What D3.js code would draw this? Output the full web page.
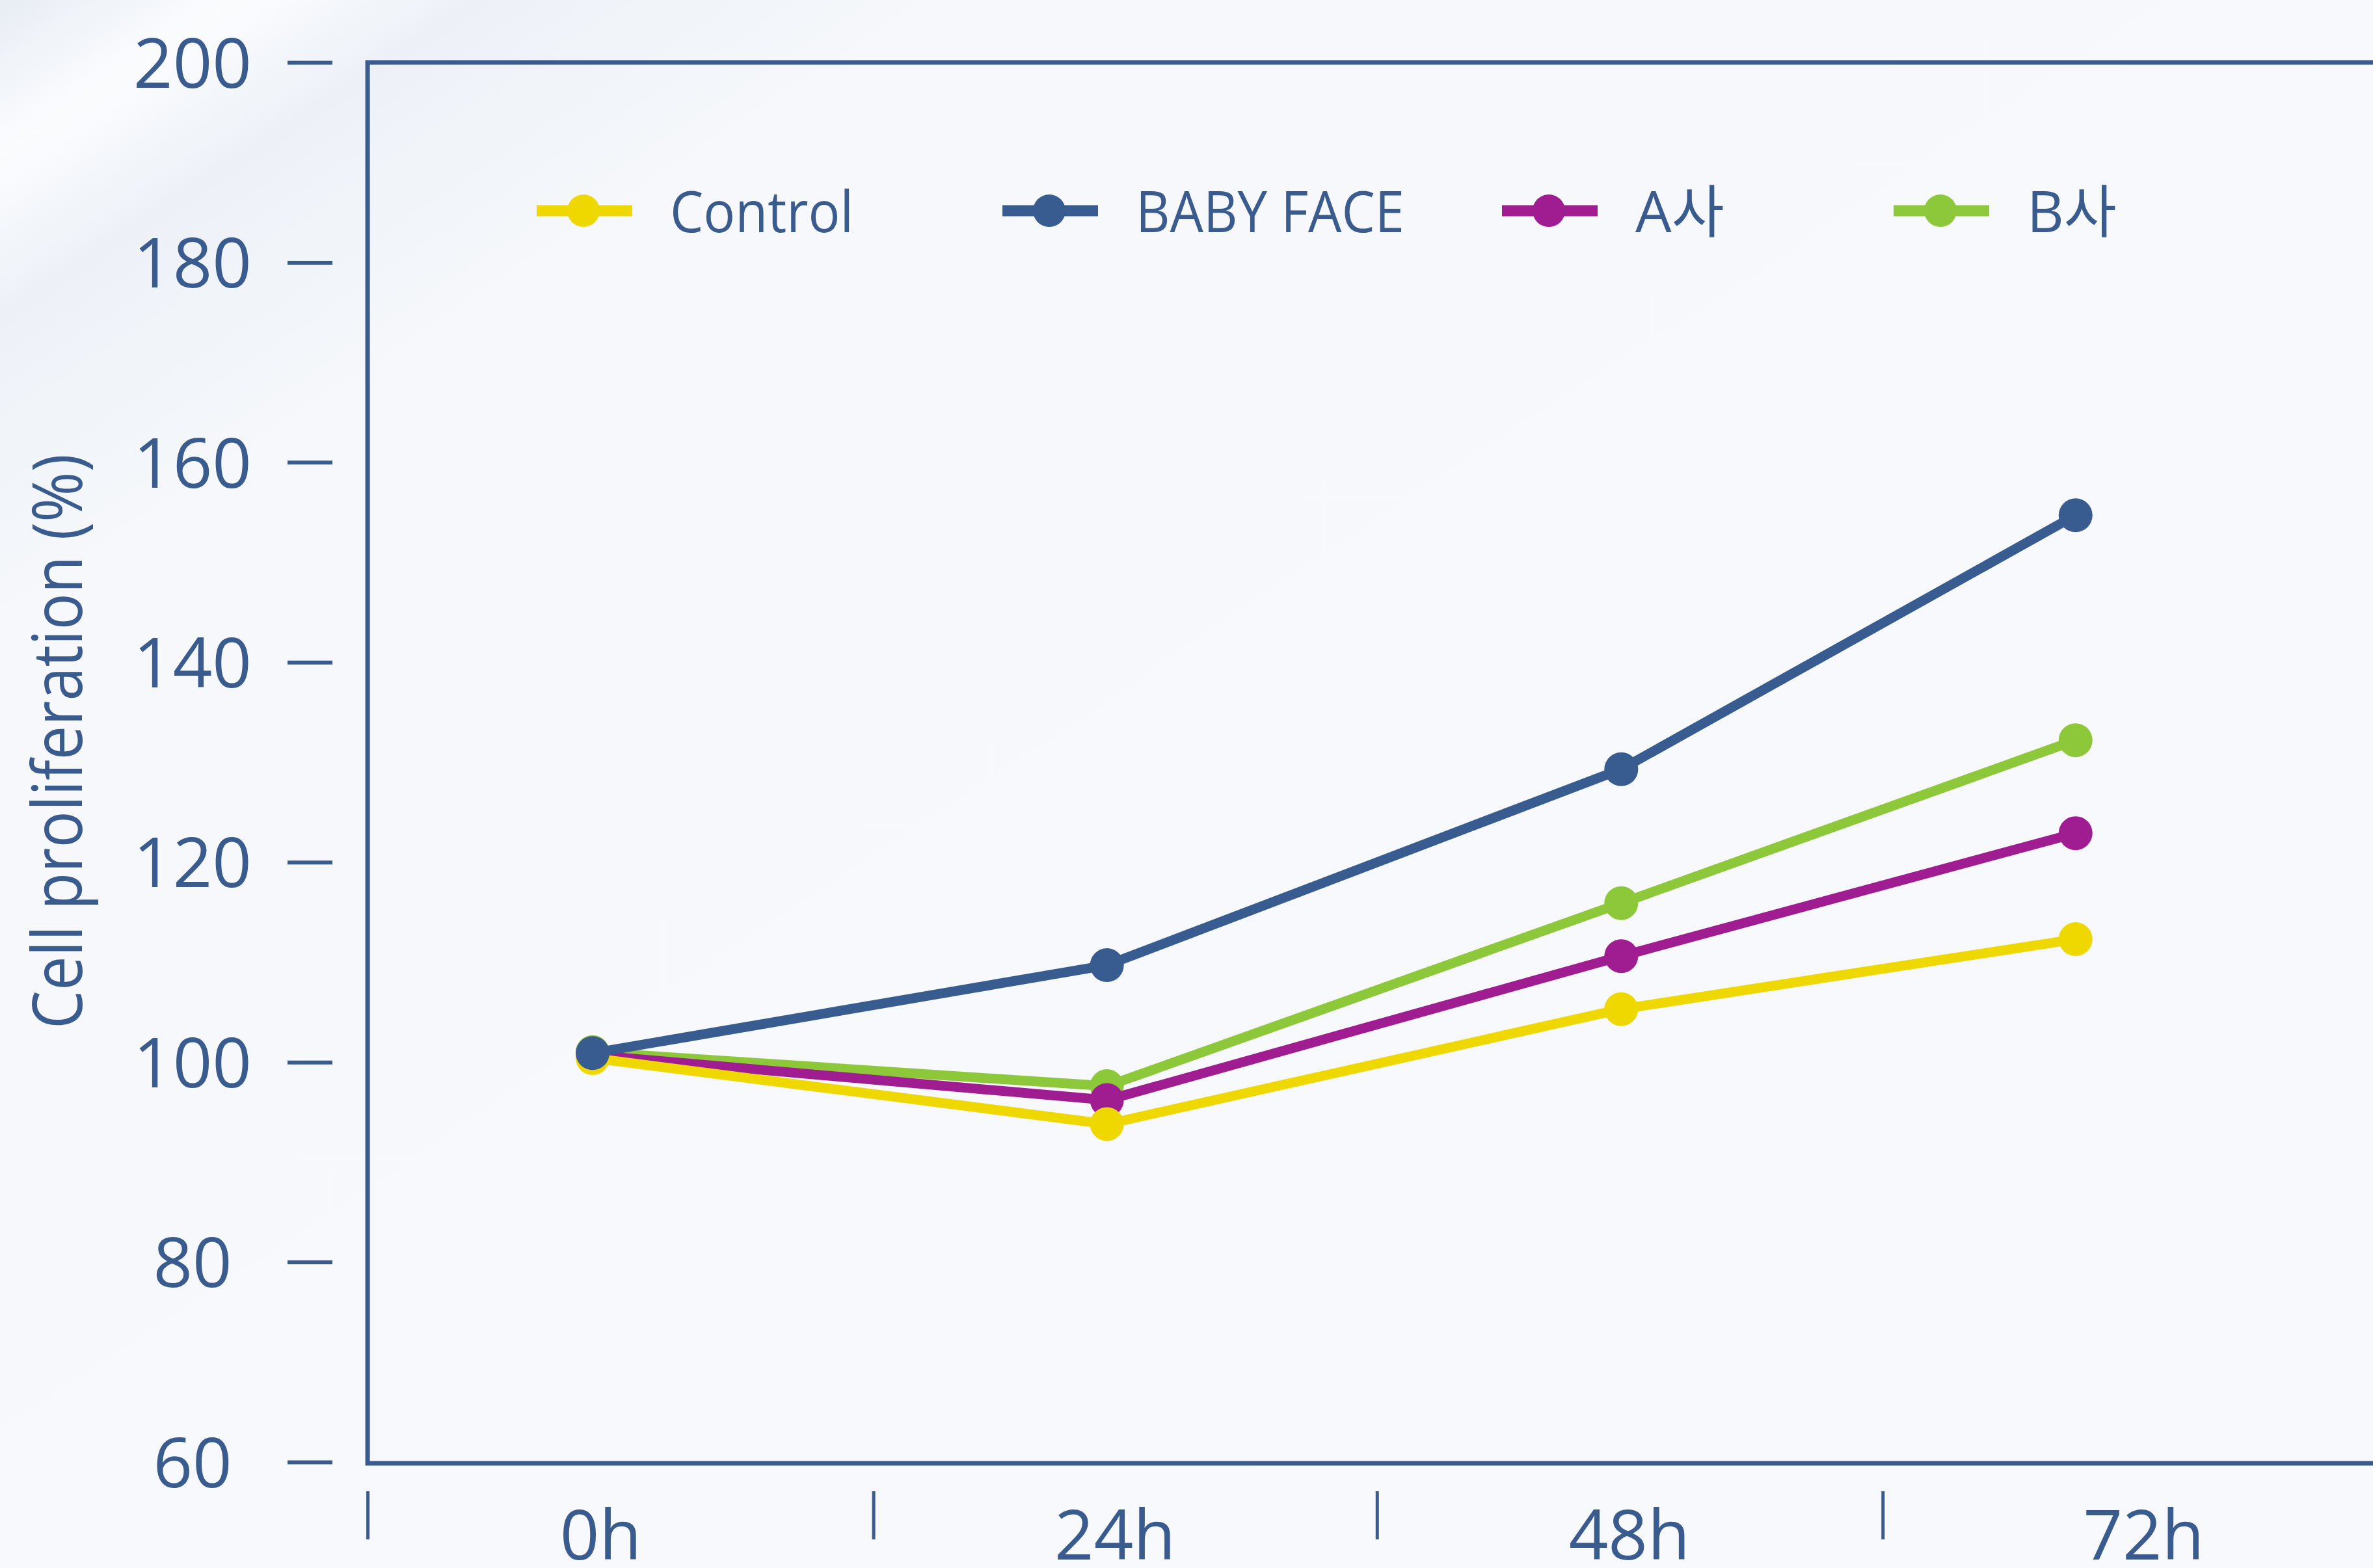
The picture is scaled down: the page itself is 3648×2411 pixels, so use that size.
<!DOCTYPE html>
<html lang='en'>
	<head>
		<meta charset='utf-8'>
		<title>Cell proliferation</title>
		<script type='text/javascript' src='https://d3js.org/d3.v7.min.js'></script>
		<style type='text/css'>
			body {
				margin: 0;
				background: #f6f8fb;
			}
			text {
				font-family: 'Open Sans', 'Noto Sans CJK KR', sans-serif;
				fill: #3a5b8e;
			}
		</style>
	</head>
	<body>
		<script type='text/javascript'>
			// x categories (hours) and where the points sit on the time axis
			var categories = ['0h', '24h', '48h', '72h'];
			var labelHours = [0, 24, 48, 72];
			var pointHours = [0, 24, 48, 69.2];
			// separators drawn under the axis, in hours
			var separatorHours = [-10.5, 13.1, 36.6, 60.2];

			var yTicks = [60, 80, 100, 120, 140, 160, 180, 200];

			var seriesNames = ['Control', 'BABY FACE', 'A사', 'B사'];
			var controlValues = [100.4, 93.8, 105.3, 112.3];
			var babyFaceValues = [100.9, 109.7, 129.3, 154.7];
			var aValues = [100.7, 96.2, 110.6, 122.9];
			var bValues = [101.0, 97.6, 115.9, 132.2];

			var w = 3648;
			var h = 2411;
			var ink = '#3a5b8e';

			var colors = {
				'Control': '#eed800',
				'BABY FACE': '#385c8f',
				'A사': '#a01c91',
				'B사': '#8cc83a'
			};
			var valuesByName = {
				'Control': controlValues,
				'BABY FACE': babyFaceValues,
				'A사': aValues,
				'B사': bValues
			};
			// drawing order (blue on top)
			var drawOrder = ['B사', 'A사', 'Control', 'BABY FACE'];

			var svg = d3.select('body')
				.append('svg')
				.attr('width', w)
				.attr('height', h);

			// soft background
			var grad = svg.append('defs').append('linearGradient')
				.attr('id', 'bg')
				.attr('x1', 0).attr('y1', 0)
				.attr('x2', 1).attr('y2', 1);
			[['0%', '#e8edf4'], ['5%', '#fbfcfe'], ['10%', '#edf1f7'], ['20%', '#f6f8fb'], ['100%', '#f7f9fc']]
				.forEach(function(s) {
					grad.append('stop').attr('offset', s[0]).attr('stop-color', s[1]);
				});
			svg.append('rect')
				.attr('width', w)
				.attr('height', h)
				.attr('fill', 'url(#bg)');

			var xScale = d3.scaleLinear()
				.domain([0, 72])
				.range([911, 3283]);

			var yScale = d3.scaleLinear()
				.domain([60, 200])
				.range([2248, 96]);

			// frame (open on the right)
			svg.append('path')
				.attr('d', 'M' + (w + 20) + ',' + yScale(200)
					+ 'H' + xScale(separatorHours[0])
					+ 'V' + (yScale(60) + 2)
					+ 'H' + (w + 20))
				.attr('fill', 'none')
				.attr('stroke', ink)
				.attr('stroke-width', 7);

			// y axis: detached tick marks + centred labels
			var yAxis = d3.axisLeft(yScale)
				.tickValues(yTicks)
				.tickSize(69);
			var gy = svg.append('g')
				.attr('transform', 'translate(511,0)')
				.call(yAxis);
			gy.select('.domain').remove();
			gy.selectAll('line').attr('stroke', ink).attr('stroke-width', 6);
			gy.selectAll('text')
				.attr('x', -215)
				.attr('dy', '0.36em')
				.attr('text-anchor', 'middle')
				.attr('font-size', 106)
				.attr('fill', ink);

			// x axis separators
			var sepAxis = d3.axisBottom(xScale)
				.tickValues(separatorHours)
				.tickSize(74)
				.tickFormat('');
			var gs = svg.append('g')
				.attr('transform', 'translate(0,2293)')
				.call(sepAxis);
			gs.select('.domain').remove();
			gs.selectAll('line').attr('stroke', ink).attr('stroke-width', 5);

			// x labels
			var labelAxis = d3.axisBottom(xScale)
				.tickValues(labelHours)
				.tickSize(0)
				.tickFormat(function(d, i) { return categories[i]; });
			var gx = svg.append('g')
				.attr('transform', 'translate(12,2398)')
				.call(labelAxis);
			gx.select('.domain').remove();
			gx.selectAll('text')
				.attr('y', 0)
				.attr('dy', 0)
				.attr('font-size', 106)
				.attr('fill', ink);

			// y title
			svg.append('text')
				.attr('transform', 'translate(126,1140) rotate(-90)')
				.attr('text-anchor', 'middle')
				.attr('font-size', 106)
				.attr('textLength', 884)
				.attr('lengthAdjust', 'spacingAndGlyphs')
				.text('Cell proliferation (%)');

			// series
			var line = d3.line()
				.x(function(d, i) { return xScale(pointHours[i]); })
				.y(function(d) { return yScale(d); });

			drawOrder.forEach(function(name) {
				var vals = valuesByName[name];
				var g = svg.append('g');
				g.append('path')
					.datum(vals)
					.attr('d', line)
					.attr('fill', 'none')
					.attr('stroke', colors[name])
					.attr('stroke-width', 15)
					.attr('stroke-linejoin', 'round');
				g.selectAll('circle')
					.data(vals)
					.enter()
					.append('circle')
					.attr('cx', function(d, i) { return xScale(pointHours[i]); })
					.attr('cy', function(d) { return yScale(d); })
					.attr('r', 26)
					.attr('fill', colors[name]);
			});

			// legend
			var legendX = [825, 1541, 2309, 2911];
			var legendLen = [282, 413, null, null];
			var legendY = 324;
			var lg = svg.append('g');
			seriesNames.forEach(function(name, i) {
				var x0 = legendX[i];
				lg.append('line')
					.attr('x1', x0).attr('x2', x0 + 147)
					.attr('y1', legendY).attr('y2', legendY)
					.attr('stroke', colors[name])
					.attr('stroke-width', 17);
				lg.append('circle')
					.attr('cx', x0 + 72)
					.attr('cy', legendY)
					.attr('r', 25)
					.attr('fill', colors[name]);
				var t = lg.append('text')
					.attr('x', x0 + 205)
					.attr('y', 357)
					.attr('font-size', 88)
					.text(name);
				if (legendLen[i]) {
					t.attr('textLength', legendLen[i]).attr('lengthAdjust', 'spacingAndGlyphs');
				}
			});
		</script>
	</body>
</html>
